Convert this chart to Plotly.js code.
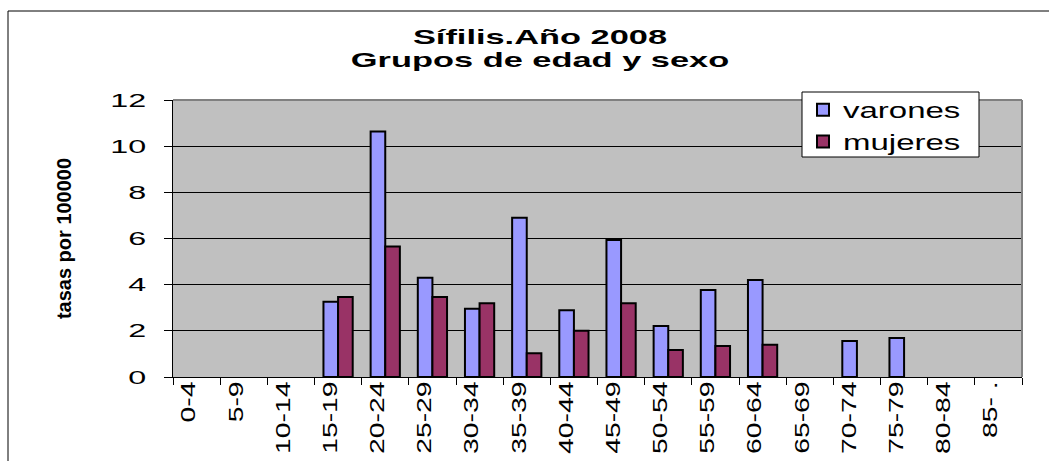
<!DOCTYPE html>
<html>
<head>
<meta charset="utf-8">
<script src="https://cdn.plot.ly/plotly-3.0.1.min.js"></script>
<style>
html,body{margin:0;padding:0;background:#fff;}
#chart{width:1049px;height:461px;}
#chart .gtitle, #chart .annotation-text{transform-box:fill-box;transform-origin:50% 50%;transform:scaleX(1.72);}
#chart .legendtext{transform-box:fill-box;transform-origin:0% 50%;transform:scaleX(1.5);}
#chart .legend .scrollbox, #chart .legend g{clip-path:none !important;}
#chart g.ytick{transform-box:fill-box;transform-origin:100% 50%;transform:scaleX(1.7);}
#chart g.xtick{transform-box:fill-box;transform-origin:50% 0%;transform:translateY(-5px) scaleY(1.35);}
</style>
</head>
<body>
<div id="chart"></div>
<script>
const categories = ["0-4","5-9","10-14","15-19","20-24","25-29","30-34","35-39","40-44","45-49","50-54","55-59","60-64","65-69","70-74","75-79","80-84","85- ."];
// blank cells (no bar drawn) are null
const varones = [null,null,null,3.26,10.63,4.30,2.96,6.90,2.89,5.94,2.21,3.77,4.20,null,1.56,1.69,null,null];
const mujeres = [null,null,null,3.47,5.65,3.47,3.19,1.03,2.00,3.19,1.17,1.34,1.40,null,null,null,null,null];
const yTicks = [0,2,4,6,8,10,12];
const titleLine1 = "Sífilis.Año 2008";
const titleLine2 = "Grupos de edad y sexo";
const yTitle = "tasas por 100000";

const arial = "Liberation Sans, Arial, sans-serif";

const traces = [
  {type:"bar", name:"varones", x:categories, y:varones,
   marker:{color:"#9999FF", line:{color:"#000000", width:2}}},
  {type:"bar", name:"mujeres", x:categories, y:mujeres,
   marker:{color:"#993366", line:{color:"#000000", width:2}}}
];

const L=173, R=1022, T=100, B=377;
const pw = R-L, ph = B-T;

const layout = {
  width:1049, height:461,
  margin:{l:L, r:1049-R, t:T, b:461-B, pad:0},
  paper_bgcolor:"#FFFFFF",
  plot_bgcolor:"#C0C0C0",
  font:{family:arial, color:"#000000", size:19},
  barmode:"group",
  bargap:0.38,
  bargroupgap:0,
  showlegend:true,
  title:{
    text:"<b>"+titleLine1+"</b>",
    font:{family:arial, size:20, color:"#000000"},
    x:540/1049, xanchor:"center", xref:"container",
    y:1-37/461, yanchor:"middle", yref:"container"
  },
  annotations:[
    {text:"<b>"+titleLine2+"</b>", showarrow:false,
     font:{family:arial, size:20, color:"#000000"},
     xref:"paper", yref:"paper",
     x:(540-L)/pw, xanchor:"center",
     y:(B-60)/ph, yanchor:"middle"}
  ],
  xaxis:{
    type:"category",
    tickangle:-90,
    tickfont:{family:arial, size:21, color:"#000000"},
    ticks:"outside", ticklen:7, tickwidth:1, tickcolor:"#000000",
    tickson:"boundaries",
    ticklabelshift:-8,
    ticklabelstandoff:0,
    showline:true, linecolor:"#000000", linewidth:1,
    showgrid:false, zeroline:false,
    automargin:false
  },
  yaxis:{
    range:[0,12],
    tickvals:yTicks,
    ticktext:yTicks.map(String),
    tickfont:{family:arial, size:19, color:"#000000"},
    ticks:"outside", ticklen:8, tickwidth:1, tickcolor:"#000000",
    showline:true, linecolor:"#000000", linewidth:1,
    showgrid:true, gridcolor:"#000000", gridwidth:1,
    zeroline:false,
    ticklabelstandoff:14,
    title:{text:"<b>"+yTitle+"</b>", font:{family:arial, size:20, color:"#000000"}, standoff:48},
    automargin:false
  },
  legend:{
    x:(803-L)/pw, xanchor:"left",
    y:(B-89)/ph, yanchor:"top",
    bgcolor:"rgba(0,0,0,0)", borderwidth:0,
    font:{family:arial, size:22, color:"#000000"},
    traceorder:"normal"
  },
  shapes:[
    {type:"rect", xref:"paper", yref:"paper", layer:"below",
     x0:(8-L)/pw, x1:(1060-L)/pw, y0:(B-470)/ph, y1:(B-11)/ph,
     line:{color:"#000000", width:1}, fillcolor:"rgba(0,0,0,0)"},
    {type:"line", xref:"paper", yref:"paper", layer:"above",
     x0:0, x1:1, y0:1, y1:1, line:{color:"#808080", width:2}},
    {type:"line", xref:"paper", yref:"paper", layer:"above",
     x0:1, x1:1, y0:0, y1:1, line:{color:"#808080", width:2}},
    {type:"rect", xref:"paper", yref:"paper", layer:"above",
     x0:(802-L)/pw, x1:(979-L)/pw, y0:(B-157)/ph, y1:(B-92)/ph,
     line:{color:"#000000", width:1}, fillcolor:"#FFFFFF"}
  ]
};

Plotly.newPlot("chart", traces, layout, {displayModeBar:false, staticPlot:true});
</script>
</body>
</html>
